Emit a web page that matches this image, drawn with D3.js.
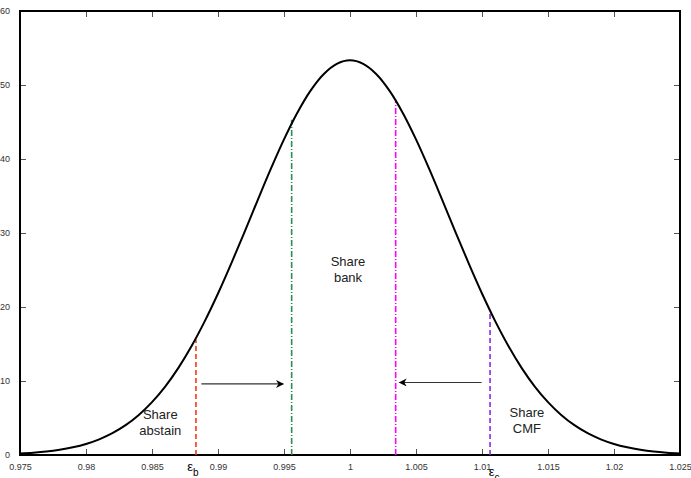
<!DOCTYPE html>
<html>
<head>
<meta charset="utf-8">
<script src="https://cdn.jsdelivr.net/npm/d3@7"></script>
<style>
  body { margin: 0; background: #fff; }
  svg { display: block; font-family: "Liberation Sans", Arial, sans-serif; }
</style>
</head>
<body>
<svg id="chart" width="691" height="478"></svg>
<script>
// curve values, x step 0.001
const xVals = d3.range(51).map(i => +(0.975 + i * 0.001).toFixed(3));
const yVals = [0.20, 0.31, 0.47, 0.71, 1.04, 1.49, 2.12, 2.95, 4.03, 5.41,
               7.14, 9.25, 11.78, 14.73, 18.09, 21.82, 25.86, 30.10, 34.42, 38.66,
               42.65, 46.22, 49.21, 51.46, 52.86, 53.33, 52.86, 51.46, 49.21, 46.22,
               42.65, 38.66, 34.42, 30.10, 25.86, 21.82, 18.09, 14.73, 11.78, 9.25,
               7.14, 5.41, 4.03, 2.95, 2.12, 1.49, 1.04, 0.71, 0.47, 0.31, 0.20];

// vertical threshold lines
const vNames = ['eps_b', 'bank_left', 'bank_right', 'eps_c'];
const vX = [0.98833, 0.99558, 1.00346, 1.01061];
const vTop = [15.6, 45.3, 48.0, 19.2];
const vColor = ['#f03c14', '#2e8b57', '#ff00ff', '#8a2be2'];
const vDash = ['5,3', '6,2,1,2', '6,2,1,2', '5,3'];

// arrows (from -> to)
const arrowX0 = [0.98874, 1.00997];
const arrowX1 = [0.99494, 1.00375];
const arrowY = [9.6, 9.8];

const xTicks = [0.975, 0.98, 0.985, 0.99, 0.995, 1, 1.005, 1.01, 1.015, 1.02, 1.025];
const yTicks = [0, 10, 20, 30, 40, 50, 60];

const labels = [
  { lines: ['Share', 'abstain'], x: 0.98563, y: 4.9 },
  { lines: ['Share', 'bank'], x: 0.99985, y: 25.6 },
  { lines: ['Share', 'CMF'], x: 1.01340, y: 5.2 }
];

const svg = d3.select('#chart');
const padL = 20, padR = 680, padT = 11, padB = 455;

const x = d3.scaleLinear().domain([0.975, 1.025]).range([padL, padR]);
const y = d3.scaleLinear().domain([0, 60]).range([padB, padT]);

// axes with inward ticks, MATLAB style box
const tickFmt = d => String(d);
svg.append('g')
    .attr('transform', `translate(0,${padB})`)
    .call(d3.axisBottom(x).tickValues(xTicks).tickSize(-6).tickPadding(9).tickFormat(tickFmt))
    .call(g => g.select('.domain').remove());
svg.append('g')
    .attr('transform', `translate(${padL},0)`)
    .call(d3.axisLeft(y).tickValues(yTicks).tickSize(-6).tickPadding(10).tickFormat(tickFmt))
    .call(g => g.select('.domain').remove());
svg.append('g')
    .attr('transform', `translate(0,${padT})`)
    .call(d3.axisTop(x).tickValues(xTicks).tickSize(-6).tickFormat(''))
    .call(g => g.select('.domain').remove());
svg.append('g')
    .attr('transform', `translate(${padR},0)`)
    .call(d3.axisRight(y).tickValues(yTicks).tickSize(-6).tickFormat(''))
    .call(g => g.select('.domain').remove());

svg.selectAll('.tick line').attr('stroke', '#555').attr('stroke-width', 1);
svg.selectAll('.tick text').attr('font-size', 9).attr('fill', '#333')
    .attr('font-family', '"Liberation Sans", Arial, sans-serif');

svg.append('rect')
    .attr('x', padL).attr('y', padT)
    .attr('width', padR - padL).attr('height', padB - padT)
    .attr('fill', 'none').attr('stroke', '#000').attr('stroke-width', 2);

// vertical lines
vNames.forEach((n, i) => {
  svg.append('line')
      .attr('x1', x(vX[i])).attr('x2', x(vX[i]))
      .attr('y1', y(0)).attr('y2', y(vTop[i]))
      .attr('stroke', vColor[i]).attr('stroke-width', 1.6)
      .attr('stroke-dasharray', vDash[i]);
});

// density curve
const line = d3.line().x((d, i) => x(xVals[i])).y(d => y(d)).curve(d3.curveCatmullRom);
svg.append('path')
    .datum(yVals)
    .attr('d', line)
    .attr('fill', 'none')
    .attr('stroke', '#000')
    .attr('stroke-width', 2);

// arrows
svg.append('defs').append('marker')
    .attr('id', 'arrow')
    .attr('viewBox', '0 0 10 10')
    .attr('refX', 9).attr('refY', 5)
    .attr('markerWidth', 10).attr('markerHeight', 8)
    .attr('markerUnits', 'userSpaceOnUse')
    .attr('orient', 'auto')
    .append('path')
    .attr('d', 'M0,0 L10,5 L0,10 L3,5 Z')
    .attr('fill', '#000');

arrowX0.forEach((a, i) => {
  svg.append('line')
      .attr('x1', x(a)).attr('x2', x(arrowX1[i]))
      .attr('y1', y(arrowY[i])).attr('y2', y(arrowY[i]))
      .attr('stroke', '#333').attr('stroke-width', 1.2)
      .attr('marker-end', 'url(#arrow)');
});

// labels
labels.forEach(l => {
  const t = svg.append('text')
      .attr('x', x(l.x)).attr('y', y(l.y))
      .attr('text-anchor', 'middle')
      .attr('font-size', 13).attr('fill', '#222');
  l.lines.forEach((s, j) => {
    t.append('tspan').attr('x', x(l.x)).attr('dy', j === 0 ? 0 : 16).text(s);
  });
});

// epsilon labels under the axis
const eps = [{ x: vX[0], sub: 'b', y: 471, dx: -3 }, { x: vX[3], sub: 'c', y: 476, dx: 4 }];
eps.forEach(e => {
  const t = svg.append('text')
      .attr('x', x(e.x) + e.dx).attr('y', e.y)
      .attr('text-anchor', 'middle')
      .attr('font-size', 13).attr('fill', '#000');
  t.append('tspan').text('\u03b5');
  t.append('tspan').attr('dy', 5).attr('font-size', 10).text(e.sub);
});
</script>
</body>
</html>
